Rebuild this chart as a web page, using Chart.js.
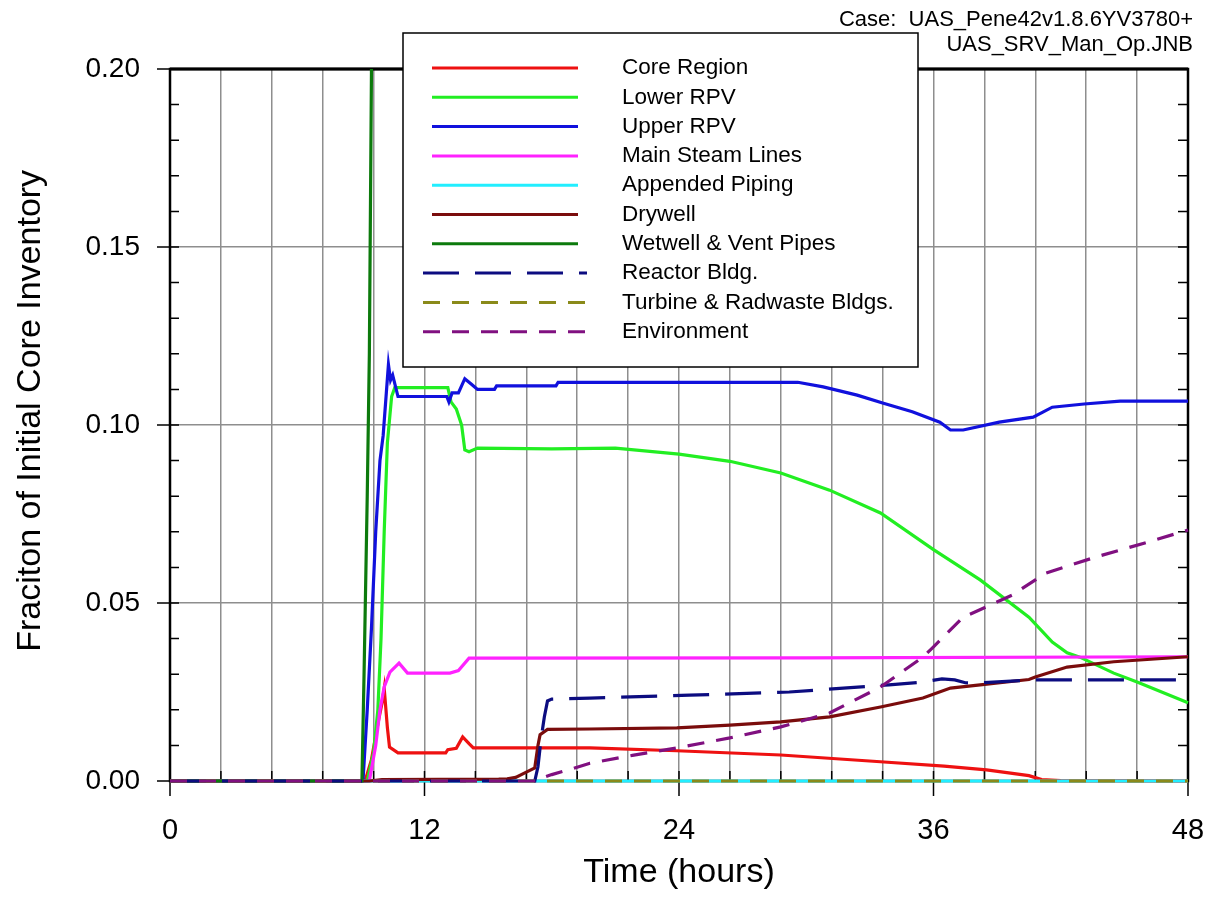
<!DOCTYPE html>
<html>
<head>
<meta charset="utf-8">
<script src="https://cdn.jsdelivr.net/npm/chart.js@4"></script>
<style>
  body { margin: 0; background: #fff; }
  canvas { display: block; }
</style>
</head>
<body>
<canvas id="inventory" width="1205" height="904"></canvas>
<script>
// [hours, fraction]
const coreRegion = [[0,0],[9.2,0],[9.5,0.006],[9.8,0.016],[10.0,0.022],[10.1,0.026],[10.25,0.015],[10.35,0.0095],[10.75,0.0079],[13.0,0.0079],[13.1,0.0088],[13.5,0.0092],[13.8,0.0124],[14.1,0.0105],[14.3,0.0093],[19.8,0.0093],[23.9,0.0085],[28.8,0.0073],[33.5,0.0054],[36.5,0.0042],[38.5,0.0031],[40.5,0.0015],[41.1,0.0004],[42,0.0001],[48,0]];
const lowerRpv = [[0,0],[9.3,0],[9.6,0.008],[9.8,0.02],[9.95,0.04],[10.1,0.07],[10.25,0.095],[10.45,0.108],[10.6,0.1105],[13.1,0.1105],[13.25,0.1065],[13.5,0.1045],[13.75,0.1],[13.9,0.093],[14.1,0.0925],[14.5,0.0935],[18,0.0933],[21,0.0935],[24,0.0918],[26.4,0.0898],[28.8,0.0865],[31.1,0.0817],[33.5,0.0753],[36,0.065],[38.2,0.0565],[40.5,0.046],[41.6,0.039],[42.3,0.036],[42.9,0.0348],[44.5,0.0303],[45.6,0.0278],[48,0.022]];
const upperRpv = [[0,0],[9.1,0],[9.3,0.02],[9.5,0.043],[9.7,0.07],[9.9,0.09],[10.05,0.097],[10.2,0.109],[10.3,0.117],[10.4,0.1126],[10.5,0.114],[10.75,0.108],[13.05,0.108],[13.15,0.1065],[13.3,0.109],[13.6,0.109],[13.9,0.113],[14.2,0.1115],[14.5,0.11],[15.3,0.11],[15.4,0.111],[18.2,0.111],[18.3,0.112],[29.6,0.112],[30.8,0.1107],[32.4,0.1084],[33.6,0.1062],[35.0,0.1037],[36.3,0.1008],[36.8,0.0986],[37.4,0.0986],[39.1,0.1008],[40.7,0.1022],[41.6,0.105],[43.1,0.1059],[44.8,0.1067],[48,0.1067]];
const mainSteamLines = [[0,0],[9.4,0],[9.7,0.01],[9.9,0.02],[10.1,0.0264],[10.37,0.0306],[10.8,0.0331],[11.2,0.0303],[13.2,0.0303],[13.6,0.031],[14.1,0.0345],[30,0.0346],[48,0.0349]];
const appendedPiping = [[0,0],[48,0]];
const drywell = [[0,0],[9.4,0],[10,0.0004],[15.5,0.0005],[15.9,0.0006],[16.3,0.001],[16.8,0.0025],[17.2,0.0037],[17.35,0.01],[17.45,0.013],[17.8,0.0145],[19.8,0.0146],[23.9,0.0149],[26.4,0.0157],[28.8,0.0166],[31.1,0.018],[33.5,0.0208],[35.5,0.0233],[36.8,0.0261],[38.2,0.027],[40.5,0.0285],[40.8,0.0292],[42.3,0.032],[44.5,0.0335],[48,0.0349]];
const wetwellVent = [[0,0],[9.05,0],[9.15,0.03],[9.3,0.08],[9.4,0.12],[9.5,0.2],[9.55,0.3],[48,0.3]];
const reactorBldg = [[0,0],[17.2,0],[17.35,0.004],[17.5,0.012],[17.65,0.018],[17.8,0.0225],[18.0,0.023],[19.8,0.0233],[24.5,0.0241],[29.2,0.025],[33.9,0.027],[35.5,0.0278],[36.4,0.0287],[37.0,0.0284],[37.5,0.0276],[38.0,0.0275],[40.7,0.0284],[48,0.0284]];
const turbineRadwaste = [[0,0],[48,0]];
const environment = [[0,0],[17.2,0],[17.4,0.0006],[18,0.0018],[19,0.0035],[19.8,0.005],[21.8,0.0072],[23.9,0.0093],[26.4,0.0121],[28.8,0.0152],[31.1,0.0191],[33.5,0.0264],[35.5,0.0348],[36.0,0.0377],[37.4,0.046],[39.7,0.0522],[41.3,0.0584],[43.7,0.063],[46.1,0.0671],[48,0.0705]];

const seriesLabels = ['Core Region', 'Lower RPV', 'Upper RPV', 'Main Steam Lines', 'Appended Piping',
  'Drywell', 'Wetwell & Vent Pipes', 'Reactor Bldg.', 'Turbine & Radwaste Bldgs.', 'Environment'];
const seriesData = [coreRegion, lowerRpv, upperRpv, mainSteamLines, appendedPiping,
  drywell, wetwellVent, reactorBldg, turbineRadwaste, environment];
const seriesColors = ['#ee1111', '#22ee22', '#1111dd', '#ff22ff', '#22eeff',
  '#7a0c0c', '#0c7a0c', '#0c0c80', '#8a8a1a', '#801080'];
const seriesDash = [[], [], [], [], [], [], [], [36, 16], [17, 12], [17, 12]];

const caseLines = ['Case:  UAS_Pene42v1.8.6YV3780+', 'UAS_SRV_Man_Op.JNB'];

Chart.defaults.font.family = '"Liberation Sans", Arial, sans-serif';
Chart.defaults.color = '#000';

const near = (v, step) => Math.abs(v / step - Math.round(v / step)) < 1e-6;

// frame and tick marks, drawn under the lines
const framePlugin = {
  id: 'frame',
  beforeDatasetsDraw(chart) {
    const {ctx, chartArea: a, scales: {x, y}} = chart;
    ctx.save();
    ctx.strokeStyle = '#000';
    ctx.lineWidth = 1.5;
    ctx.beginPath();
    for (let i = 0; i <= 20; i++) {
      const px = x.getPixelForValue(i * 2.4);
      ctx.moveTo(px, a.bottom); ctx.lineTo(px, a.bottom - 10);
      if (i % 5 === 0) { ctx.moveTo(px, a.bottom); ctx.lineTo(px, a.bottom + 15); }
    }
    for (let i = 0; i <= 20; i++) {
      const py = y.getPixelForValue(i * 0.01);
      ctx.moveTo(a.left, py); ctx.lineTo(a.left + 9, py);
      ctx.moveTo(a.right, py); ctx.lineTo(a.right - 10, py);
      if (i % 5 === 0) { ctx.moveTo(a.left - 13, py); ctx.lineTo(a.left, py); }
    }
    ctx.stroke();
    ctx.lineWidth = 2.5;
    ctx.strokeRect(a.left, a.top, a.right - a.left, a.bottom - a.top);
    ctx.lineWidth = 3;
    ctx.beginPath();
    ctx.moveTo(a.left, a.top); ctx.lineTo(a.right, a.top);
    ctx.stroke();
    ctx.restore();
  },
  afterDraw(chart) {
    const ctx = chart.ctx;
    ctx.save();
    // case caption
    ctx.fillStyle = '#000';
    ctx.font = '22px "Liberation Sans", Arial, sans-serif';
    ctx.textAlign = 'right';
    ctx.textBaseline = 'alphabetic';
    ctx.fillText(caseLines[0], 1193, 26);
    ctx.fillText(caseLines[1], 1193, 51);
    // legend box
    ctx.fillStyle = '#fff';
    ctx.fillRect(403, 33, 515, 334);
    ctx.strokeStyle = '#000';
    ctx.lineWidth = 1.5;
    ctx.strokeRect(403, 33, 515, 334);
    ctx.font = '22.5px "Liberation Sans", Arial, sans-serif';
    ctx.textAlign = 'left';
    ctx.textBaseline = 'middle';
    chart.data.datasets.forEach((ds, i) => {
      const rowY = 68 + i * 29.3;
      ctx.strokeStyle = ds.borderColor;
      ctx.lineWidth = 3;
      ctx.setLineDash(ds.borderDash);
      ctx.beginPath();
      if (ds.borderDash.length) { ctx.moveTo(423, rowY); ctx.lineTo(587, rowY); }
      else { ctx.moveTo(432, rowY); ctx.lineTo(578, rowY); }
      ctx.stroke();
      ctx.setLineDash([]);
      ctx.fillStyle = '#000';
      ctx.fillText(ds.label, 622, rowY);
    });
    ctx.restore();
  }
};

const inventoryChart = document.getElementById('inventory');

new Chart(inventoryChart, {
  type: 'line',
  data: {
    datasets: seriesLabels.map((label, i) => ({
      label: label,
      data: seriesData[i].map(p => ({x: p[0], y: p[1]})),
      borderColor: seriesColors[i],
      borderDash: seriesDash[i],
      borderWidth: 3.2,
      pointRadius: 0,
      tension: 0,
      fill: false,
      clip: { left: 2, right: 2, top: 0, bottom: 3 },
      order: seriesLabels.length - i
    }))
  },
  options: {
    responsive: false,
    animation: false,
    layout: { padding: { top: 69, right: 17, left: 0, bottom: 0 } },
    plugins: {
      legend: { display: false },
      tooltip: { enabled: false }
    },
    scales: {
      x: {
        type: 'linear',
        min: 0,
        max: 48,
        border: { display: false },
        grid: {
          color: '#8e8e8e',
          lineWidth: 1.5,
          drawTicks: false
        },
        ticks: {
          stepSize: 2.4,
          autoSkip: false,
          maxRotation: 0,
          padding: 33,
          font: { size: 29 },
          callback: v => near(v, 12) ? String(Math.round(v)) : ''
        },
        title: {
          display: true,
          text: 'Time (hours)',
          font: { size: 34 },
          padding: { top: 0, bottom: 11 }
        },
        afterFit: s => { s.height = 123; s.paddingRight = 0; s.paddingLeft = 0; }
      },
      y: {
        type: 'linear',
        min: 0,
        max: 0.2,
        border: { display: false },
        grid: {
          color: '#8e8e8e',
          lineWidth: 1.5,
          drawTicks: false
        },
        ticks: {
          stepSize: 0.05,
          padding: 30,
          font: { size: 28 },
          callback: v => v.toFixed(2)
        },
        title: {
          display: true,
          text: '   Fraciton of Initial Core Inventory',
          font: { size: 34 },
          padding: { top: 10, bottom: 0 }
        },
        afterFit: s => { s.width = 170; s.paddingTop = 0; s.paddingBottom = 0; }
      }
    }
  },
  plugins: [framePlugin]
});
</script>
</body>
</html>
